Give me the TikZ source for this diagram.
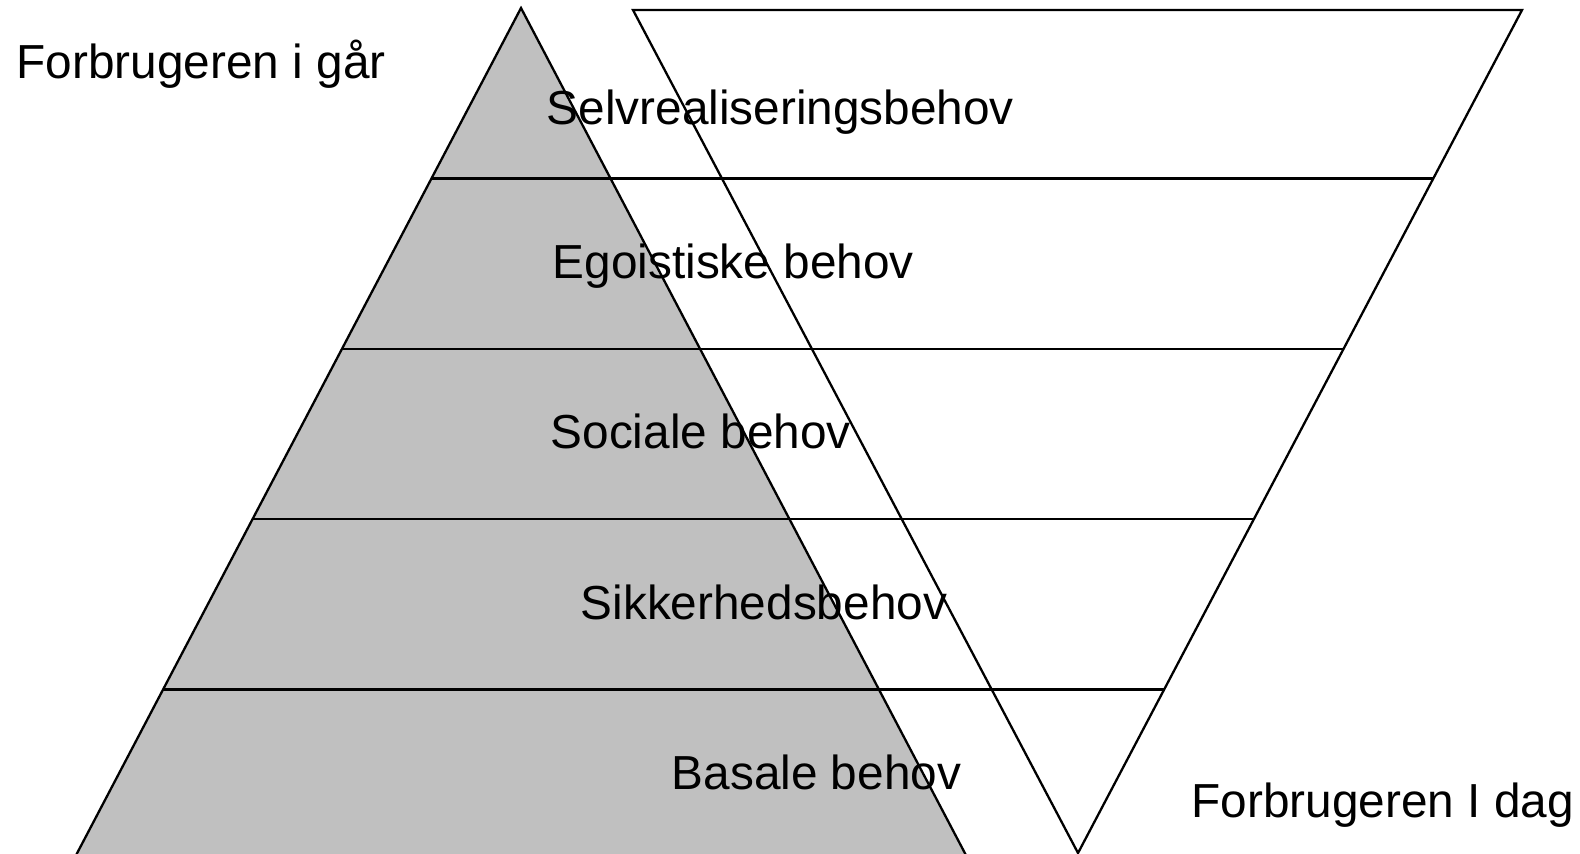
\documentclass[tikz,border=0pt]{standalone}
\usepackage{fontspec}
\setmainfont{Liberation Sans}
\usetikzlibrary{calc}
\definecolor{pyrgray}{RGB}{192,192,192}

\begin{document}
\begin{tikzpicture}
  [
    x=0.01cm, y=-0.01cm,
    label/.style={
      font=\fontsize{13.58}{16}\selectfont,
      anchor=base west, inner sep=0pt
    },
    edge/.style={
      draw=black, line width=0.65pt
    },
    pyramid/.style={
      fill=pyrgray, edge
    }
  ]
\clip (0,0) rectangle (1580,853);

% Pyramid
\coordinate (apex)  at (521,8);
\coordinate (baseL) at (73.5,860);
\coordinate (baseR) at (968.5,860);
\filldraw [pyramid] (apex) -- (baseR) -- (baseL) -- cycle;

% Inverted triangle
\coordinate (topL) at (633,10);
\coordinate (topR) at (1522,10);
\coordinate (tip)  at (1078,853);
\draw [edge] (topL) -- (topR) -- (tip) -- cycle;

% Levels
\foreach \k/\xr in {1/1433.3, 2/1343.5, 3/1253.8, 4/1164.1} {
  \coordinate (l\k) at ($(apex)!\k/5!(baseL)$);
  \draw [edge] (l\k) -- (l\k -| \xr,0);
}

% Texts
\node (past)  [label] at (16,78.5)   {Forbrugeren i går};
\node (self)  [label] at (546,124)   {Selvrealiseringsbehov};
\node (ego)   [label] at (552,278)   {Egoistiske behov};
\node (soc)   [label] at (550,448)   {Sociale behov};
\node (safe)  [label] at (580,619)   {Sikkerhedsbehov};
\node (basic) [label] at (671,789)   {Basale behov};
\node (today) [label] at (1191,817)  {Forbrugeren I dag};

\end{tikzpicture}
\end{document}
